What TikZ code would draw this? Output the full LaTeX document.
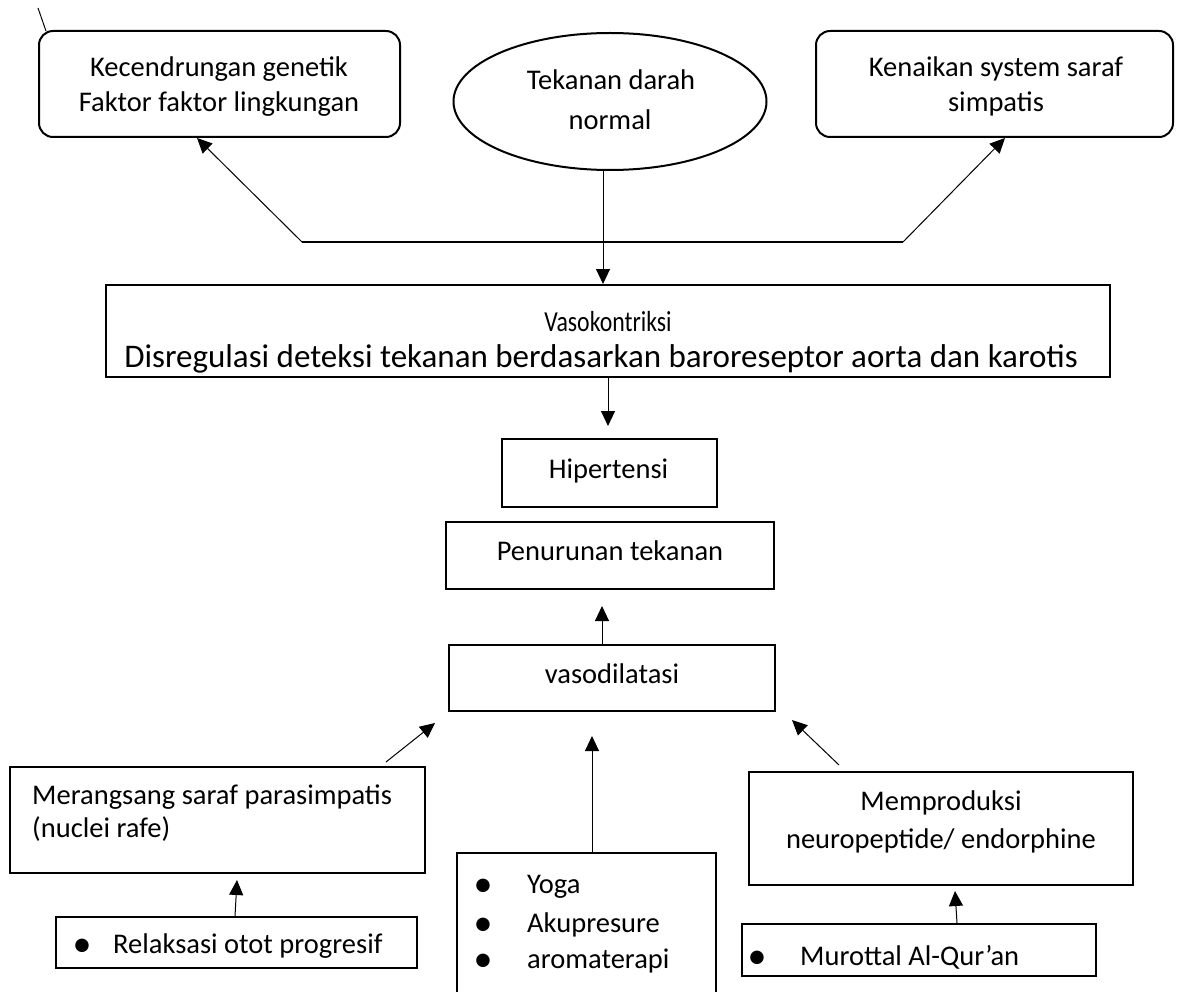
\documentclass[tikz,border=0pt]{standalone}
\usepackage{fontspec}
\usepackage{graphicx}
\setmainfont{Carlito}
\usetikzlibrary{arrows.meta,shapes.geometric,calc}
\begin{document}
\begin{tikzpicture}[x=1pt,y=-1pt,
  font=\fontsize{28.5}{35}\selectfont,
  box/.style={draw,line width=2pt,inner sep=0pt},
  rbox/.style={box,rounded corners=14pt},
  ellbox/.style={draw,ellipse,line width=2pt,inner sep=0pt},
  txt/.style={inner sep=0pt},
  bul/.style={inner sep=0pt,anchor=base,font=\fontsize{38}{38}\selectfont},
  arr/.style={-{Triangle[length=15pt,width=14pt]},line width=1pt},
  thin line/.style={line width=1pt},
  thick line/.style={line width=1.8pt}]
\useasboundingbox (0,0) rectangle (1177,992);

% boxes
\node[rbox,minimum width=361pt,minimum height=106pt] (tl) at (219.5,84) {};
\node[ellbox,minimum width=313pt,minimum height=137pt] (ell) at (610,101.5) {};
\node[rbox,minimum width=357pt,minimum height=106pt] (tr) at (994.5,84) {};
\node[box,minimum width=1004pt,minimum height=92pt] (vaso) at (608,331) {};
\node[box,minimum width=215pt,minimum height=68pt] (hip) at (609.5,473) {};
\node[box,minimum width=328pt,minimum height=67pt] (pen) at (610,555.5) {};
\node[box,minimum width=326pt,minimum height=66pt] (vd) at (612,678) {};
\node[box,minimum width=415pt,minimum height=106pt] (mer) at (217.5,820) {};
\node[box,minimum width=259pt,minimum height=147pt] (yoga) at (586.5,926.5) {};
\node[box,minimum width=384pt,minimum height=113pt] (mem) at (941,828.5) {};
\node[box,minimum width=361pt,minimum height=51pt] (rel) at (236.5,942.5) {};
\node[box,minimum width=354pt,minimum height=52pt] (mur) at (919,950) {};

% texts
\node[txt,anchor=base] (tl1) at (219,77) {Kecendrungan genetik};
\node[txt,anchor=base] (tl2) at (219,112) {Faktor faktor lingkungan};
\node[txt,anchor=base] (e1) at (611,90) {Tekanan darah};
\node[txt,anchor=base] (e2) at (610,130) {normal};
\node[txt,anchor=base] (tr1) at (996,77) {Kenaikan system saraf};
\node[txt,anchor=base] (tr2) at (996,112) {simpatis};
\begin{scope}
  \clip (107,286) rectangle (1109,376);
  \node[txt,anchor=base,font=\fontsize{29}{34}\selectfont] (v1) at (608,331) {\scalebox{0.82}[1]{Vasokontriksi}};
  \node[txt,anchor=base,font=\fontsize{33}{40}\selectfont] (v2) at (601,367) {Disregulasi deteksi tekanan berdasarkan baroreseptor aorta dan karotis};
\end{scope}
\node[txt,anchor=base] (h1) at (608.5,478) {Hipertensi};
\node[txt,anchor=base] (p1) at (610,560) {Penurunan tekanan};
\node[txt,anchor=base] (d1) at (612,683) {vasodilatasi};
\node[txt,anchor=base west] (m1) at (32,804) {Merangsang saraf parasimpatis};
\node[txt,anchor=base west] (m2) at (32,837) {(nuclei rafe)};
\node[bul] (rb) at (82,956) {•};
\node[txt,anchor=base west] (r1) at (113,953) {Relaksasi otot progresif};
\node[bul] (yb1) at (483,896) {•};
\node[txt,anchor=base west] (y1) at (527,893) {Yoga};
\node[bul] (yb2) at (483,935) {•};
\node[txt,anchor=base west] (y2) at (527,932) {Akupresure};
\node[bul] (yb3) at (483,971) {•};
\node[txt,anchor=base west] (y3) at (527,968) {aromaterapi};
\node[txt,anchor=base] (me1) at (941,810) {Memproduksi};
\node[txt,anchor=base] (me2) at (941,848) {neuropeptide/ endorphine};
\node[bul] (mb) at (757,968) {•};
\node[txt,anchor=base west] (mu1) at (800,965) {Murottal Al-Qur’an};

% connectors
\coordinate (sl) at (38,8);
\draw[thin line] (sl) -- ([xshift=8pt,yshift=-1pt]tl.north west);
\coordinate (jl) at (302,242);
\coordinate (jr) at (903,242);
\draw[thick line] (jl) -- (jr);
\draw[arr] (jl) -- ([xshift=-22.5pt]tl.south);
\draw[arr] (jr) -- ([xshift=10.5pt]tr.south);
\draw[arr] ([xshift=-7pt]ell.south) -- ([xshift=-7pt]ell.south |- vaso.north);
\draw[arr] (vaso.south) -- ($(vaso.south |- hip.north)+(0,-12)$);
\draw[arr] ([xshift=-10pt]vd.north) -- ($([xshift=-10pt]vd.north |- pen.south)+(0,16)$);
\draw[arr] ([xshift=168.5pt,yshift=4pt]mer.north) -- ($(vd.south west)+(-13,11)$);
\draw[arr] ([xshift=5.5pt]yoga.north) -- ($([xshift=5.5pt]yoga.north |- vd.south)+(0,24)$);
\draw[arr] ([xshift=-102pt,yshift=6pt]mem.north) -- ($(vd.south east)+(16,8)$);
\draw[arr] ([xshift=-1.5pt]rel.north) -- ($(mer.south)+(19.5,6)$);
\draw[arr] ([xshift=38pt]mur.north) -- ($(mem.south)+(14,5)$);
\end{tikzpicture}
\end{document}
